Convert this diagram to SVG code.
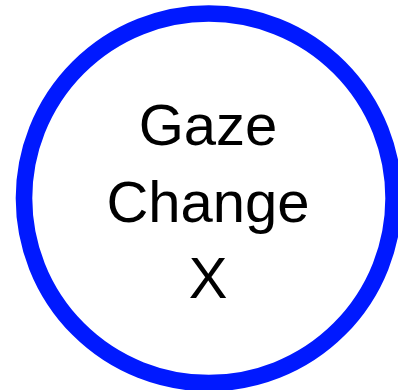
<svg xmlns="http://www.w3.org/2000/svg" width="398" height="390" viewBox="0 0 398 390">
<style>
.node{fill:#ffffff;stroke:#0019ff;stroke-width:16.6}
.label{font-family:"Liberation Sans",Arial,sans-serif;font-size:58px;fill:#000000;text-anchor:middle}
</style>
<rect width="398" height="390" fill="#ffffff"/>
<g id="connectors"></g>
<g id="gaze-change-x">
<circle class="node" cx="208.8" cy="198.3" r="184.8"/>
<text class="label" x="208" y="145">Gaze</text>
<text class="label" x="208" y="221.7">Change</text>
<text class="label" x="208" y="298">X</text>
</g>
</svg>
